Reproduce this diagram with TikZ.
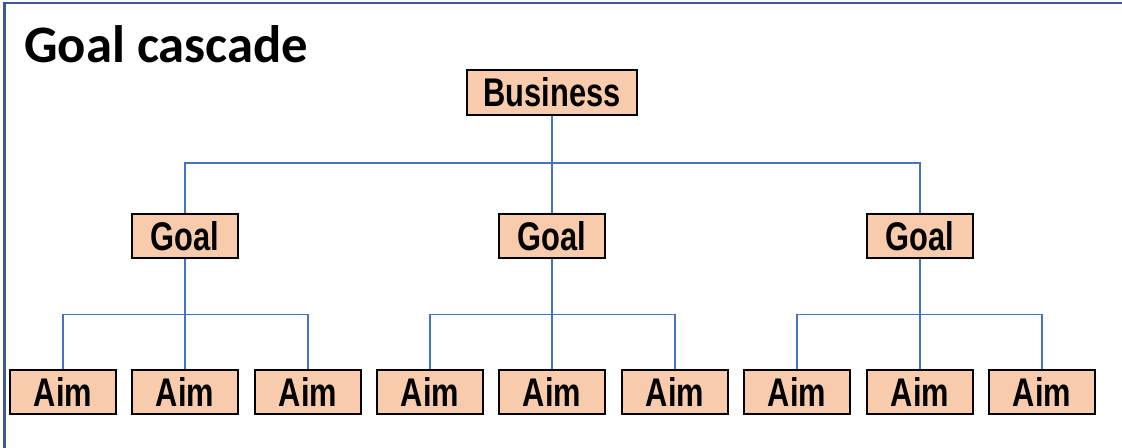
\documentclass[tikz,border=0pt]{standalone}
\usepackage{fontspec}
\newfontfamily\titlefont{Carlito}
\newfontfamily\boxfont{Liberation Sans}[FakeStretch=0.77]
\definecolor{boxfill}{RGB}{248,203,173}
\definecolor{linkblue}{RGB}{68,114,196}
\definecolor{frameblue}{RGB}{59,89,152}

\begin{document}
\begin{tikzpicture}[x=0.75pt, y=-0.75pt,
    box/.style={draw=black, fill=boxfill, line width=1.5pt, inner sep=0pt,
      minimum width=80pt, minimum height=33.5pt,
      font=\boxfont\bfseries\fontsize{30pt}{30pt}\selectfont},
    link/.style={linkblue, line width=1.1pt}]
  \useasboundingbox (0,0) rectangle (1122,448);
  \draw[frameblue, line width=2.2pt] (4.5,448) -- (4.5,3) -- (1122,3);
  \node[anchor=base west, inner sep=0pt,
    font=\titlefont\bfseries\fontsize{39.5pt}{39.5pt}\selectfont] (title) at (24,63) {Goal cascade};

  % business and goals
  \node[box, minimum width=127pt] (B) at (552,92.5) {Business};
  \node[box] (G1) at (185,236) {Goal};
  \node[box] (G2) at (552,236) {Goal};
  \node[box] (G3) at (920,236) {Goal};

  % aims
  \foreach \i/\x in {1/63, 2/185, 3/308, 4/430, 5/552, 6/675, 7/797, 8/920, 9/1042}
    \node[box] (A\i) at (\x,392) {Aim};

  % connectors
  \coordinate (top) at (552,163);
  \draw[link] (B) -- (top);
  \draw[link] (G1) |- (top) -| (G3);
  \draw[link] (G2) -- (top);
  \foreach \g/\l/\m/\r in {1/1/2/3, 2/4/5/6, 3/7/8/9} {
    \path (G\g.south) ++(0,55) coordinate (mid\g);
    \draw[link] (G\g) -- (mid\g);
    \draw[link] (A\l) |- (mid\g) -| (A\r);
    \draw[link] (A\m) -- (mid\g);
  }
\end{tikzpicture}
\end{document}
